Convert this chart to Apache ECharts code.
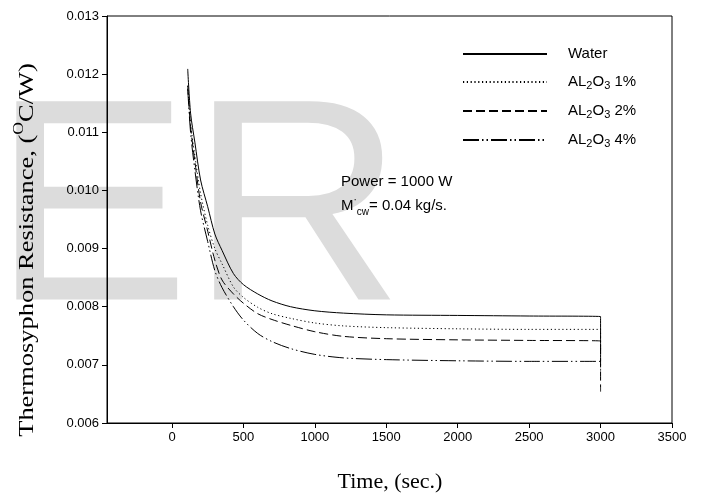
<!DOCTYPE html>
<html>
<head>
<meta charset="utf-8">
<script src="https://cdn.jsdelivr.net/npm/echarts@6/dist/echarts.min.js"></script>
<style>html,body{margin:0;padding:0;background:#fff;}#c{width:707px;height:493px;}</style>
</head>
<body>
<div id="c"></div>
<script>
// ---- data ----
const times = [110, 130, 160, 200, 250, 300, 350, 430, 500, 600, 700, 830, 1000, 1200, 1500, 2000, 2500, 3000, 3000];
const water = [0.01209, 0.01133, 0.01083, 0.01018, 0.00972, 0.00925, 0.00897, 0.00857, 0.00838, 0.00822, 0.00810, 0.00800, 0.00793, 0.00789, 0.00786, 0.00785, 0.00784, 0.00783, 0.00706];
const al1 = [0.01180, 0.01115, 0.01060, 0.00995, 0.00940, 0.00900, 0.00874, 0.00834, 0.00816, 0.00799, 0.00788, 0.00780, 0.00772, 0.00767, 0.00764, 0.00762, 0.00761, 0.00761, 0.00725];
const al2 = [0.01180, 0.01110, 0.01050, 0.00980, 0.00930, 0.00880, 0.00846, 0.00822, 0.00806, 0.00788, 0.00778, 0.00768, 0.00757, 0.00749, 0.00745, 0.00743, 0.00742, 0.00741, 0.00654];
const al4 = [0.01175, 0.01100, 0.01035, 0.00965, 0.00912, 0.00862, 0.00833, 0.00800, 0.00777, 0.00754, 0.00740, 0.00728, 0.00718, 0.00712, 0.00709, 0.00707, 0.00706, 0.00706, 0.00690];
const seriesNames = ['Water', 'AL2O3 1%', 'AL2O3 2%', 'AL2O3 4%'];
const xTicks = [0, 500, 1000, 1500, 2000, 2500, 3000, 3500];
const yTicks = [0.006, 0.007, 0.008, 0.009, 0.010, 0.011, 0.012, 0.013];

const pair = (vals) => times.map((t, i) => [t, vals[i]]);
const dashTypes = ['solid', [1.2, 2.6], [9, 4], [16, 3, 1.5, 3, 1.5, 3]];
const allVals = [water, al1, al2, al4];

const chart = echarts.init(document.getElementById('c'), null, {renderer: 'canvas'});
const sans = 'Liberation Sans, Arial, sans-serif';
const serif = 'Liberation Serif, Times New Roman, serif';

chart.setOption({
  animation: false,
  backgroundColor: '#fff',
  graphic: [
    {type: 'text', z: -10, silent: true, x: -8, y: 220, scaleX: 1.03, scaleY: 1,
     style: {text: 'ER', x: 0, y: 0, font: '288px "Liberation Sans", Arial', fill: '#dcdcdc', verticalAlign: 'middle', align: 'left'}},
    {type: 'text', z: 10,
     style: {text: 'Power = 1000 W', x: 341, y: 182, font: '15px "Liberation Sans", Arial', fill: '#000', verticalAlign: 'middle'}},
    {type: 'text', z: 10,
     style: {text: '{n|M}{sup|·}{sub|cw}{n|= 0.04 kg/s.}', x: 341, y: 206, verticalAlign: 'middle',
       rich: {
         n: {fontFamily: sans, fontSize: 15, lineHeight: 22, fill: '#000'},
         sup: {fontFamily: sans, fontSize: 10, verticalAlign: 'top', fill: '#000'},
         sub: {fontFamily: sans, fontSize: 10, verticalAlign: 'bottom', fill: '#000'}
       }}},
    {type: 'text', z: 10, rotation: Math.PI / 2, x: 27, y: 250, scaleX: 1.26, scaleY: 1,
     style: {text: '{t|Thermosyphon Resistance, (}{sup|O}{t|C/W)}', x: 0, y: 0, align: 'center', verticalAlign: 'middle',
       rich: {
         t: {fontFamily: serif, fontSize: 21, lineHeight: 30, fill: '#000'},
         sup: {fontFamily: serif, fontSize: 14, verticalAlign: 'top', fill: '#000'}
       }}},
    {type: 'text', z: 10,
     style: {text: 'Time, (sec.)', x: 390, y: 482, align: 'center', verticalAlign: 'middle', font: '22px "Liberation Serif", "Times New Roman"', fill: '#000'}}
  ],
  legend: {
    orient: 'vertical',
    left: 462, top: 46, padding: 0,
    itemWidth: 84, itemHeight: 20, itemGap: 12,
    itemStyle: {opacity: 0},
    data: seriesNames,
    textStyle: {
      padding: [0, 0, 0, 16],
      rich: {
        n: {fontFamily: sans, fontSize: 15, color: '#000', lineHeight: 18},
        sub: {fontFamily: sans, fontSize: 11, color: '#000', verticalAlign: 'bottom', lineHeight: 13}
      }
    },
    formatter: function (name) {
      if (name === 'Water') return '{n|Water}';
      const pct = name.split(' ')[1];
      return '{n|AL}{sub|2}{n|O}{sub|3}{n| ' + pct + '}';
    }
  },
  grid: {left: 107, right: 35, top: 16, bottom: 70, show: true, borderColor: '#000', borderWidth: 1},
  xAxis: {
    type: 'value', min: -455, max: 3500,
    axisLine: {show: true, onZero: false, lineStyle: {color: '#000', width: 1}},
    axisTick: {show: true, customValues: xTicks, length: 5, inside: false, lineStyle: {color: '#000'}},
    axisLabel: {customValues: xTicks, fontFamily: sans, fontSize: 13, color: '#000', margin: 8, formatter: v => String(v)},
    splitLine: {show: false}
  },
  yAxis: {
    type: 'value', min: 0.006, max: 0.013, interval: 0.001,
    axisLine: {show: true, onZero: false, lineStyle: {color: '#000', width: 1}},
    axisTick: {show: true, length: 5, lineStyle: {color: '#000'}},
    axisLabel: {fontFamily: sans, fontSize: 13, color: '#000', margin: 8, formatter: v => v.toFixed(3)},
    splitLine: {show: false}
  },
  series: seriesNames.map((n, i) => ({
    name: n, type: 'line', data: pair(allVals[i]), smooth: 0.3, symbol: 'none',
    lineStyle: {color: '#000', width: 1, type: dashTypes[i]},
    itemStyle: {color: '#000'}
  }))
});
</script>
</body>
</html>
